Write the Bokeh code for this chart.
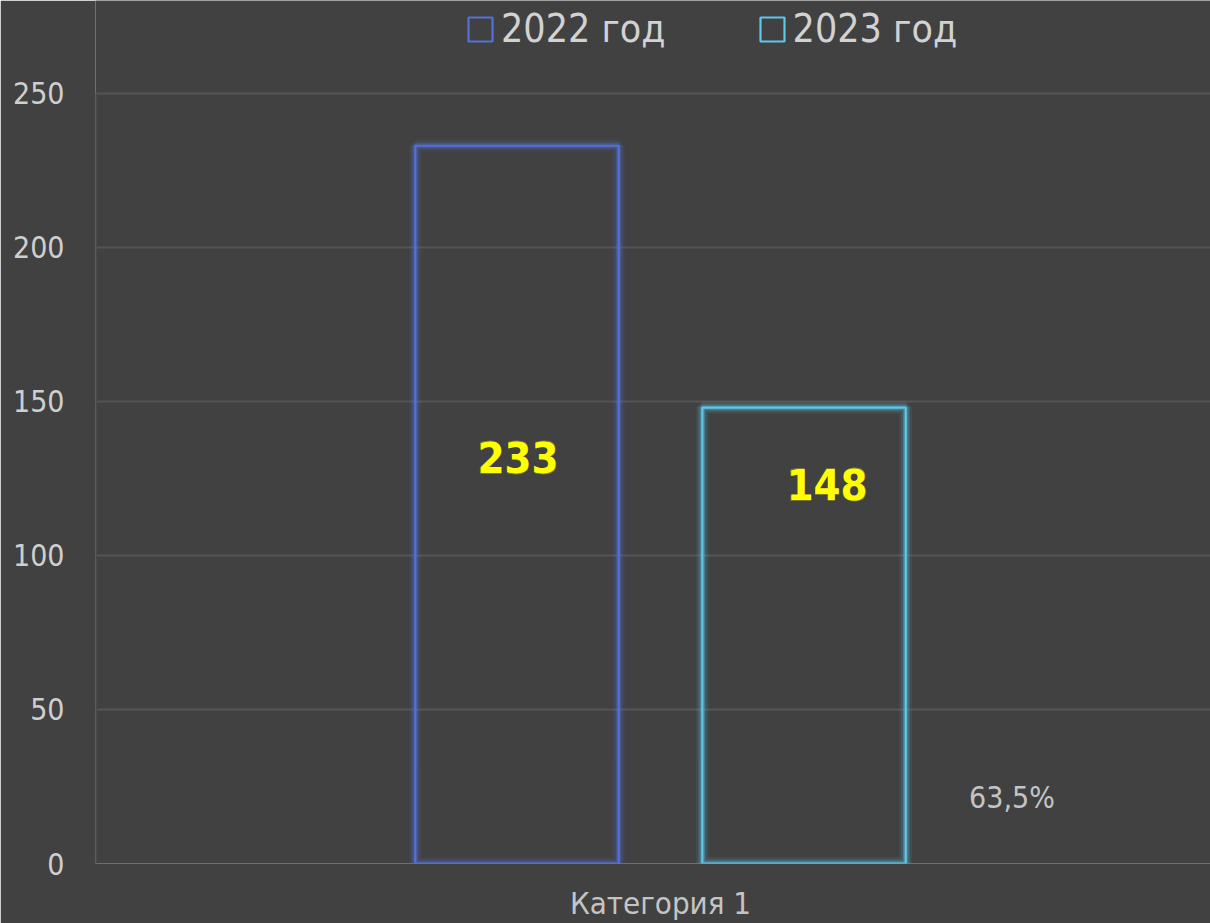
from bokeh.plotting import figure
from bokeh.models import Range1d, FixedTicker, Legend, LegendItem, Label, ColumnDataSource
from bokeh.core.properties import value
from bokeh.embed import file_html
from bokeh.resources import INLINE

categories = ["Категория 1"]
series_names = ["2022 год", "2023 год"]
values_2022 = [233]
values_2023 = [148]
y_ticks = [0, 50, 100, 150, 200, 250]

BG = "#414141"
GRID = "#555555"
TXT = "#cfcfcf"
COL22 = "#5570d8"
COL23 = "#5cc8ea"
FONT = "DejaVu Sans Condensed"

# frame spans full height above the x axis; 250 sits 93px below the top
y_top = max(y_ticks) * 864 / 771
x_start = -0.5
p = figure(width=1210, height=923, output_backend="svg", toolbar_location=None,
           x_range=Range1d(x_start, 0.4867), y_range=Range1d(0, y_top),
           background_fill_color=BG, border_fill_color=BG,
           min_border_left=95, min_border_right=0, min_border_top=0, min_border_bottom=0)
p.outline_line_color = None

# faint vertical axis line from 0 to the top tick
p.segment(x0=[x_start], y0=[0], x1=[x_start], y1=[max(y_ticks)],
          line_color="#4b4b4b", line_width=3)

xs = list(range(len(categories)))
bar_w = 0.18
off = 0.127
src22 = ColumnDataSource(dict(x=[x - off for x in xs], top=values_2022, lab=[str(v) for v in values_2022]))
src23 = ColumnDataSource(dict(x=[x + off for x in xs], top=values_2023, lab=[str(v) for v in values_2023]))

renderers = []
for src, col in ((src22, COL22), (src23, COL23)):
    for lw, a in ((13, 0.08), (9, 0.14), (5.5, 0.3)):
        p.vbar(x="x", top="top", bottom=0, width=bar_w, source=src, fill_alpha=0,
               line_color=col, line_alpha=a, line_width=lw)
    r = p.vbar(x="x", top="top", bottom=0, width=bar_w, source=src, fill_alpha=0,
               line_color=col, line_width=2.2)
    renderers.append(r)

# value labels (with soft glow)
for src, xo, yo in ((src22, 1, 312), (src23, 23, 77)):
    p.text(x="x", y="top", text="lab", source=src, x_offset=xo, y_offset=yo,
           text_align="center", text_baseline="middle", text_color="#ffff00",
           text_alpha=0.3, text_font=value(FONT), text_font_style="bold",
           text_font_size="44px")
    p.text(x="x", y="top", text="lab", source=src, x_offset=xo, y_offset=yo,
           text_align="center", text_baseline="middle", text_color="#ffff00",
           text_font=value(FONT), text_font_style="bold", text_font_size="43px")

ratio = values_2023[0] / values_2022[0] * 100
pct = f"{ratio:.1f}%".replace(".", ",")
p.add_layout(Label(x=xs[0] + 0.311, y=21.5, text=pct, text_align="center",
                   text_baseline="middle", text_color="#c4c4c4",
                   text_font=FONT, text_font_size="30px"))

# axes
p.yaxis.ticker = FixedTicker(ticks=y_ticks)
p.yaxis.axis_line_color = None
p.yaxis.major_tick_line_color = None
p.yaxis.minor_tick_line_color = None
p.yaxis.major_label_text_color = TXT
p.yaxis.major_label_text_font = FONT
p.yaxis.major_label_text_font_size = "30px"
p.yaxis.major_label_standoff = 25

p.xaxis.ticker = FixedTicker(ticks=xs)
p.xaxis.major_label_overrides = {i: c for i, c in zip(xs, categories)}
p.xaxis.axis_line_color = None
p.xaxis.major_tick_line_color = None
p.xaxis.minor_tick_line_color = None
p.xaxis.major_label_text_color = "#c4c4c4"
p.xaxis.major_label_text_font = FONT
p.xaxis.major_label_text_font_size = "31px"
p.xaxis.major_label_standoff = 15

p.xgrid.grid_line_color = None
p.ygrid.ticker = FixedTicker(ticks=[t for t in y_ticks if t > 0])
p.ygrid.grid_line_color = GRID
p.ygrid.grid_line_width = 2

legend = Legend(items=[LegendItem(label=n, renderers=[r]) for n, r in zip(series_names, renderers)],
                orientation="horizontal", location=(370, 812),
                background_fill_alpha=0, border_line_color=None,
                glyph_width=30, glyph_height=30, label_standoff=6, spacing=91,
                padding=0, margin=0,
                label_text_color="#d2d2d2", label_text_font=FONT, label_text_font_size="39px")
p.add_layout(legend, "center")

open("out.html", "w").write(file_html(p, INLINE))
